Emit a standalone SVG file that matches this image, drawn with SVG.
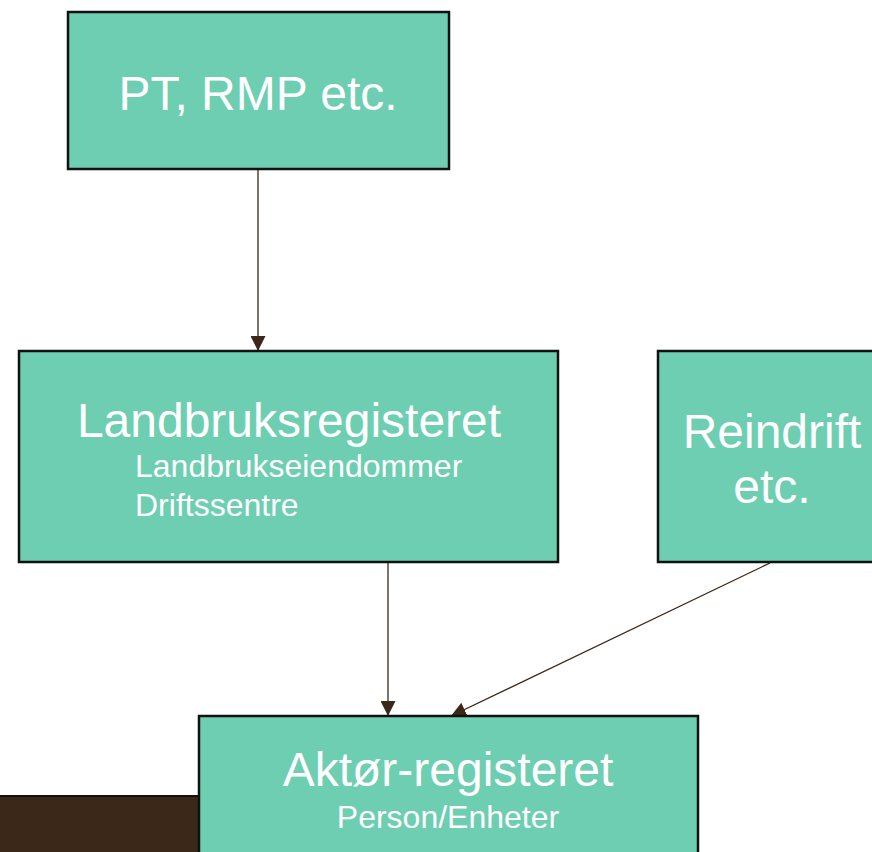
<svg xmlns="http://www.w3.org/2000/svg" width="872" height="852" viewBox="0 0 872 852">
<style>
.box{fill:#6dceb1;stroke:#111;stroke-width:2.5}
.t{font-family:"Liberation Sans",Arial,sans-serif;fill:#fff}
.big{font-size:48px}
.small{font-size:32px}
.c{stroke:#3c2818;stroke-width:1.3;fill:none}
</style>
<defs>
<marker id="ah" viewBox="0 0 10 10" refX="10" refY="5" markerWidth="15" markerHeight="15" markerUnits="userSpaceOnUse" orient="auto">
<path d="M0,0 L10,5 L0,10 Z" fill="#3c2818"/>
</marker>
</defs>
<rect width="872" height="852" fill="#fff"/>
<rect x="-5" y="796" width="205" height="60" fill="#3c2818" stroke="#111" stroke-width="2"/>
<g id="connectors">
<line class="c" x1="258" y1="169" x2="258" y2="351" marker-end="url(#ah)"/>
<line class="c" x1="388" y1="562" x2="388" y2="716" marker-end="url(#ah)"/>
<line class="c" x1="770" y1="563" x2="451" y2="716" marker-end="url(#ah)"/>
</g>
<g id="pt">
<rect class="box" x="68" y="12" width="381" height="157"/>
<text class="t big" x="258" y="110" text-anchor="middle">PT, RMP etc.</text>
</g>
<g id="landbruk">
<rect class="box" x="19" y="351" width="539" height="211"/>
<text class="t big" x="289" y="437" text-anchor="middle">Landbruksregisteret</text>
<text class="t small" x="135" y="477">Landbrukseiendommer</text>
<text class="t small" x="135" y="516">Driftssentre</text>
</g>
<g id="reindrift">
<rect class="box" x="658" y="351" width="230" height="211"/>
<text class="t big" x="772" y="448" text-anchor="middle">Reindrift</text>
<text class="t big" x="772" y="503" text-anchor="middle">etc.</text>
</g>
<g id="aktor">
<rect class="box" x="199" y="716" width="499" height="150"/>
<text class="t big" x="448" y="786" text-anchor="middle">Aktør-registeret</text>
<text class="t small" x="448" y="828" text-anchor="middle">Person/Enheter</text>
</g>
</svg>
